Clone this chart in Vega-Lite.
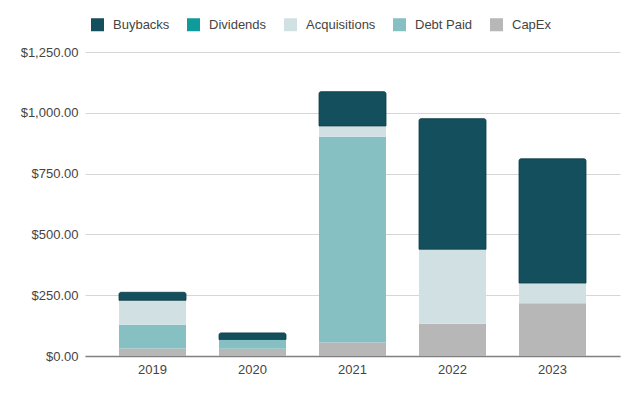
{
  "$schema": "https://vega.github.io/schema/vega-lite/v6.json",
  "autosize": {"type": "none"},
  "width": 535,
  "height": 304,
  "padding": {"left": 85, "top": 52, "right": 20, "bottom": 40},
  "background": "white",
  "config": {
    "view": {"stroke": null},
    "font": "Liberation Sans",
    "axis": {"labelFont": "Liberation Sans", "labelFontSize": 13, "labelColor": "#444444"},
    "legend": {"labelFont": "Liberation Sans", "labelFontSize": 13, "labelColor": "#444444"}
  },
  "data": {
    "values": [
      {"year": "2019", "type": "CapEx", "value": 31},
      {"year": "2019", "type": "Debt Paid", "value": 98},
      {"year": "2019", "type": "Acquisitions", "value": 100},
      {"year": "2019", "type": "Dividends", "value": 0},
      {"year": "2019", "type": "Buybacks", "value": 33},
      {"year": "2020", "type": "CapEx", "value": 30},
      {"year": "2020", "type": "Debt Paid", "value": 38},
      {"year": "2020", "type": "Acquisitions", "value": 0},
      {"year": "2020", "type": "Dividends", "value": 0},
      {"year": "2020", "type": "Buybacks", "value": 27},
      {"year": "2021", "type": "CapEx", "value": 56},
      {"year": "2021", "type": "Debt Paid", "value": 846},
      {"year": "2021", "type": "Acquisitions", "value": 44},
      {"year": "2021", "type": "Dividends", "value": 0},
      {"year": "2021", "type": "Buybacks", "value": 141},
      {"year": "2022", "type": "CapEx", "value": 133},
      {"year": "2022", "type": "Debt Paid", "value": 0},
      {"year": "2022", "type": "Acquisitions", "value": 306},
      {"year": "2022", "type": "Dividends", "value": 0},
      {"year": "2022", "type": "Buybacks", "value": 537},
      {"year": "2023", "type": "CapEx", "value": 217},
      {"year": "2023", "type": "Debt Paid", "value": 0},
      {"year": "2023", "type": "Acquisitions", "value": 83},
      {"year": "2023", "type": "Dividends", "value": 0},
      {"year": "2023", "type": "Buybacks", "value": 511}
    ]
  },
  "transform": [
    {"calculate": "indexof(['CapEx','Debt Paid','Acquisitions','Dividends','Buybacks'], datum.type)", "as": "ord"},
    {"stack": "value", "groupby": ["year"], "sort": [{"field": "ord", "order": "ascending"}], "as": ["v0", "v1"]}
  ],
  "encoding": {
    "x": {
      "field": "year", "type": "nominal", "title": null,
      "scale": {"paddingInner": 0.33, "paddingOuter": 0.34},
      "axis": {"labelAngle": 0, "domainColor": "#808080", "domainWidth": 1.5, "ticks": false, "labelPadding": 7}
    },
    "y": {
      "field": "v1", "type": "quantitative", "title": null,
      "scale": {"domain": [0, 1250], "nice": false},
      "axis": {"values": [0, 250, 500, 750, 1000, 1250], "format": "$,.2f", "domain": false, "ticks": false, "gridColor": "#d6d6d6", "labelPadding": 7}
    },
    "y2": {"field": "v0"},
    "color": {
      "field": "type", "type": "nominal", "title": null,
      "scale": {
        "domain": ["Buybacks", "Dividends", "Acquisitions", "Debt Paid", "CapEx"],
        "range": ["#134f5c", "#0f9a9c", "#d0e0e3", "#87c0c2", "#b7b7b7"]
      },
      "legend": {
        "orient": "none", "direction": "horizontal", "legendX": 6, "legendY": -34,
        "symbolType": "square", "symbolSize": 169, "symbolStrokeWidth": 0,
        "labelOffset": 9, "columnPadding": 17
      }
    }
  },
  "layer": [
    {
      "transform": [{"filter": "datum.type !== 'Buybacks' && datum.value > 0"}],
      "mark": {"type": "bar"}
    },
    {
      "transform": [{"filter": "datum.type === 'Buybacks'"}],
      "mark": {"type": "bar", "cornerRadiusTopLeft": 2, "cornerRadiusTopRight": 2, "stroke": "#0e3d47", "strokeWidth": 0.8}
    }
  ]
}
